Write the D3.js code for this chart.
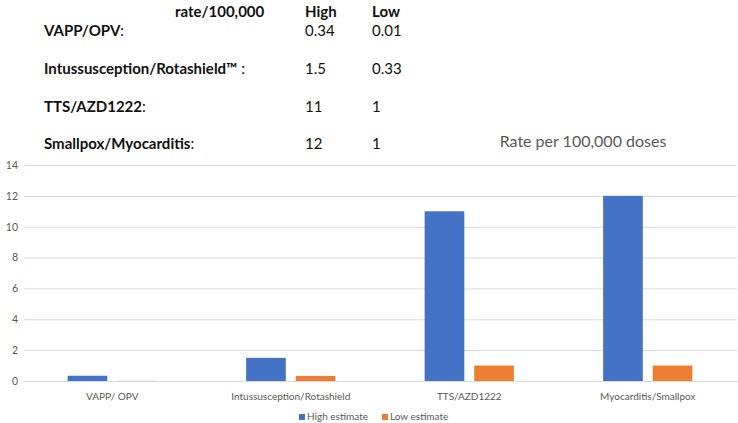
<!DOCTYPE html>
<html><head><meta charset="utf-8">
<script src="https://cdn.jsdelivr.net/npm/d3@7"></script>
<style>body{margin:0;background:#fff}svg{display:block}</style>
</head><body>
<svg id="c" width="738" height="423"></svg>
<script>
const categories = ["VAPP/ OPV", "Intussusception/Rotashield", "TTS/AZD1222", "Myocarditis/Smallpox"];
const seriesNames = ["High estimate", "Low estimate"];
const highValues = [0.34, 1.5, 11, 12];
const lowValues = [0.01, 0.33, 1, 1];
const yTicks = [0, 2, 4, 6, 8, 10, 12, 14];
const tableLabels = ["VAPP/OPV", "Intussusception/Rotashield\u2122 ", "TTS/AZD1222", "Smallpox/Myocarditis"];
const tableHigh = ["0.34", "1.5", "11", "12"];
const tableLow = ["0.01", "0.33", "1", "1"];
const colors = ["#4472C4", "#ED7D31"];

const svg = d3.select("#c");
const font = "Lato, 'Open Sans', sans-serif";

// Table text
const tbl = svg.append("g").attr("font-family", font).attr("fill", "#111").attr("font-size", 15);
tbl.append("text").attr("x", 175).attr("y", 17).attr("font-weight", "bold").text("rate/100,000");
tbl.append("text").attr("x", 305).attr("y", 17).attr("font-weight", "bold").text("High");
tbl.append("text").attr("x", 372).attr("y", 17).attr("font-weight", "bold").text("Low");
const rowY = [36, 74, 112, 149];
tableLabels.forEach((l, i) => {
  const t = tbl.append("text").attr("x", 44).attr("y", rowY[i]);
  t.append("tspan").attr("font-weight", "bold").text(l);
  t.append("tspan").text(":");
  tbl.append("text").attr("x", 305).attr("y", rowY[i]).text(tableHigh[i]);
  tbl.append("text").attr("x", 372).attr("y", rowY[i]).text(tableLow[i]);
});

// Chart
const y = d3.scaleLinear().domain([0, 14]).range([381, 165]);
const x0 = d3.scaleBand().domain(categories).range([23, 737]).paddingInner(0);
const step = x0.bandwidth();
const x1 = d3.scaleBand().domain(seriesNames).range([step * 0.25, step * 0.75]).paddingInner(0.2);

const yAxis = svg.append("g").attr("transform", "translate(24,0)")
  .call(d3.axisLeft(y).tickValues(yTicks).tickSize(-713).tickPadding(6));
yAxis.select(".domain").remove();
yAxis.selectAll(".tick line").attr("stroke", "#d9d9d9").attr("stroke-width", 1);
yAxis.selectAll(".tick text").attr("fill", "#595959").attr("font-size", 10.5).attr("font-family", font);

const data = categories.map((c, i) => ({c, vals: [highValues[i], lowValues[i]]}));
const g = svg.append("g").selectAll("g").data(data).join("g")
  .attr("transform", d => `translate(${x0(d.c)},0)`);
g.selectAll("rect").data(d => d.vals.map((v, k) => ({k, v}))).join("rect")
  .attr("x", d => x1(seriesNames[d.k]))
  .attr("width", x1.bandwidth())
  .attr("y", d => y(d.v))
  .attr("height", d => y(0) - y(d.v))
  .attr("fill", d => colors[d.k]);

const xAxis = svg.append("g").attr("transform", "translate(0,381)")
  .call(d3.axisBottom(x0).tickSize(0).tickPadding(12));
xAxis.select(".domain").attr("stroke", "#d9d9d9");
xAxis.selectAll(".tick text").attr("fill", "#595959").attr("font-size", 10).attr("font-family", font);

// Title
svg.append("text").attr("x", 583).attr("y", 147).attr("text-anchor", "middle")
  .attr("font-family", font).attr("font-size", 16).attr("fill", "#595959").text("Rate per 100,000 doses");

// Legend
const leg = svg.append("g").attr("font-family", font).attr("font-size", 10).attr("fill", "#595959");
const legX = [299, 382];
seriesNames.forEach((s, i) => {
  leg.append("rect").attr("x", legX[i]).attr("y", 414).attr("width", 6).attr("height", 6).attr("fill", colors[i]);
  leg.append("text").attr("x", legX[i] + 8).attr("y", 420).text(s);
});
</script>
</body></html>
